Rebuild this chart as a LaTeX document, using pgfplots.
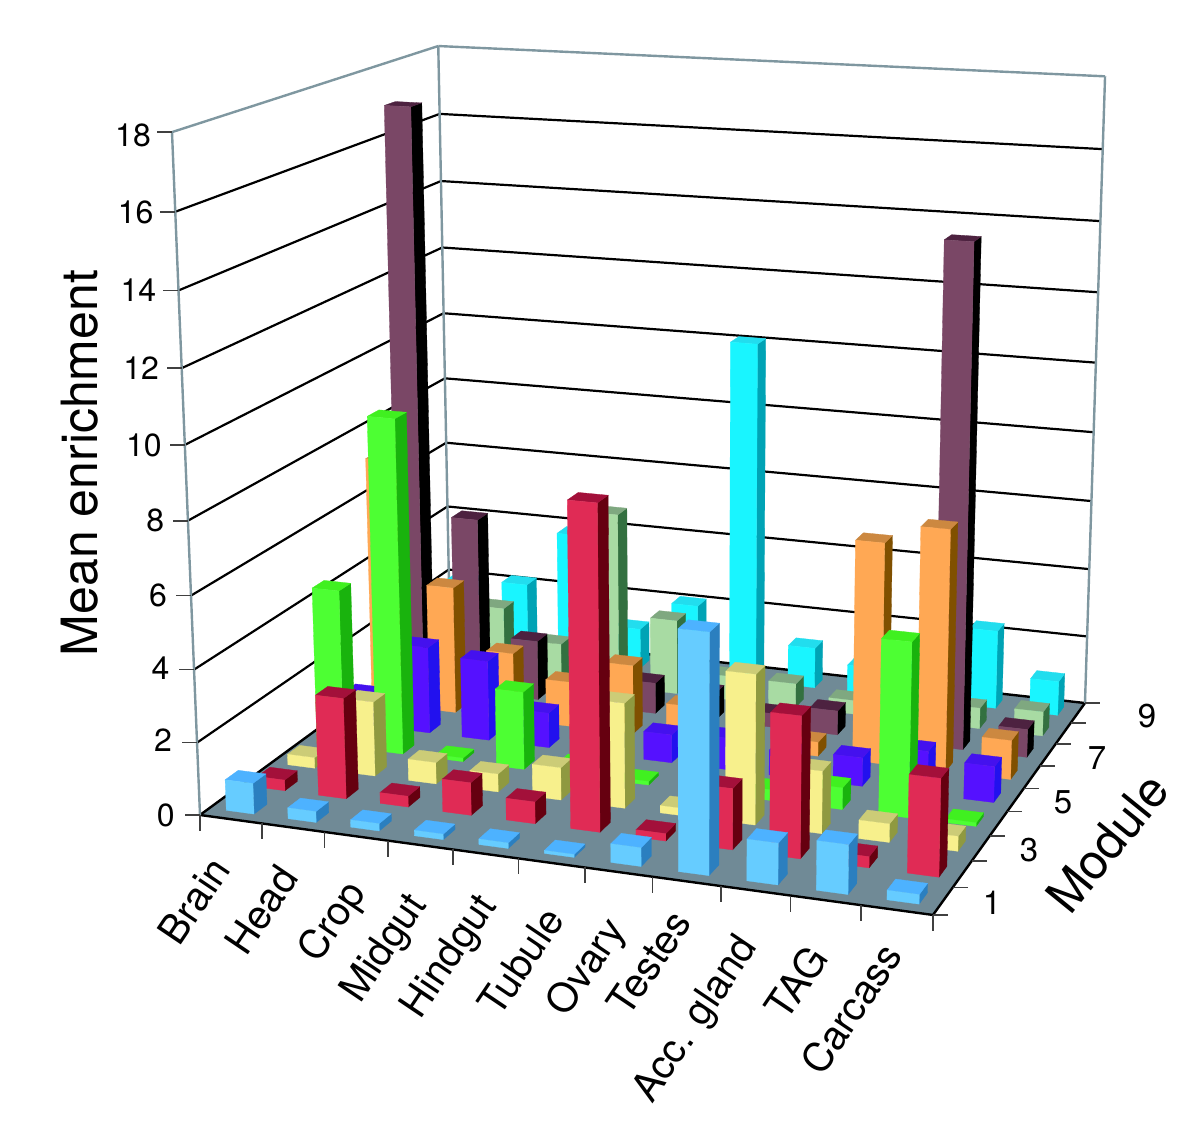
\documentclass[border=0pt]{standalone}
\usepackage{pgfplots}
\usepackage{pgfplotstable}
\usepackage{fontspec}
\setmainfont{TeX Gyre Heros}
\pgfplotsset{compat=1.18}
\definecolor{wallc}{HTML}{7F97A0}
\definecolor{groundc}{HTML}{708A96}
% front, top, side per module
\definecolor{f1}{HTML}{66CCFF}\definecolor{t1}{HTML}{4DB2FF}\definecolor{s1}{HTML}{2B7FBF}
\definecolor{f2}{HTML}{E02B55}\definecolor{t2}{HTML}{A3103A}\definecolor{s2}{HTML}{660010}
\definecolor{f3}{HTML}{F7F08C}\definecolor{t3}{HTML}{CCCC77}\definecolor{s3}{HTML}{8F9940}
\definecolor{f4}{HTML}{4DFF33}\definecolor{t4}{HTML}{40F020}\definecolor{s4}{HTML}{19B30D}
\definecolor{f5}{HTML}{5511FF}\definecolor{t5}{HTML}{4411EE}\definecolor{s5}{HTML}{2211EE}
\definecolor{f6}{HTML}{FFA854}\definecolor{t6}{HTML}{CC8840}\definecolor{s6}{HTML}{805000}
\definecolor{f7}{HTML}{7A4766}\definecolor{t7}{HTML}{4D2240}\definecolor{s7}{HTML}{000000}
\definecolor{f8}{HTML}{A8DBA3}\definecolor{t8}{HTML}{7FA880}\definecolor{s8}{HTML}{337040}
\definecolor{f9}{HTML}{19F5FF}\definecolor{t9}{HTML}{22DDEE}\definecolor{s9}{HTML}{00A3B5}
% rows: module, columns: tissue (Brain ... Carcass)
\pgfplotstableread{
m  c1   c2   c3   c4   c5   c6   c7   c8   c9   c10  c11
1  0.85 0.3  0.2  0.15 0.15 0.08 0.5  6.35 1.1  1.3  0.25
2  0.3  2.8  0.3  0.9  0.6  8.8  0.2  1.65 3.8  0.3  2.6
3  0.3  2.1  0.6  0.5  0.9  2.9  0.2  4.1  1.7  0.5  0.4
4  4.5  9.5  0.1  2.2  0.3  0.1  0.2  0.3  0.6  4.8  0.1
5  0.9  2.5  2.3  1.0  1.5  0.8  0.9  0.7  0.8  1.2  1.0
6  7.25 3.7  1.95 1.3  2.0  1.0  1.0  0.4  6.25 6.8  1.1
7 17.0  5.2  1.75 0.8  0.9  0.8  0.4  0.7  0.5 14.2  0.8
8  1.5  2.0  1.1  5.2  2.2  0.7  0.7  0.4  0.5  0.6  0.7
9  2.1  2.2  3.9  1.2  2.1 10.1  1.2  0.8  1.0  2.3  1.0
}\heights
% perspective projection of (u,v,z), z in data units, to picture coordinates
\newcommand{\proj}[5]{%
  \pgfmathsetmacro{\wtmp}{1-0.0788*(#1)+0.1732*(#2)-0.00297*(#3)}%
  \pgfmathsetmacro{#4}{(659.5*(#1)+327.9*(#2)+200-2.067*(#3))/\wtmp}%
  \pgfmathsetmacro{#5}{1146-(27.9*(#1)-73.5*(#2)+815-38.33*(#3))/\wtmp}%
}
\newcommand{\polyplot}[2]{% colour, coordinates
  \edef\tmpplot{\noexpand\addplot[draw=#1,fill=#1,line width=0.3pt,forget plot] coordinates {#2};}\tmpplot}
\newcommand{\seg}[7]{% style u v z u v z
  \proj{#2}{#3}{#4}{\xa}{\ya}\proj{#5}{#6}{#7}{\xb}{\yb}%
  \edef\tmpplot{\noexpand\addplot[#1,forget plot] coordinates {(\xa,\ya)(\xb,\yb)};}\tmpplot}
\newcommand{\onebar}[3]{% i j h
  \pgfmathsetmacro{\uc}{(#1-0.5)/11}\pgfmathsetmacro{\vc}{(#2-0.5)/9}%
  \pgfmathsetmacro{\ua}{\uc-0.0205}\pgfmathsetmacro{\ub}{\uc+0.0205}%
  \pgfmathsetmacro{\va}{\vc-0.023}\pgfmathsetmacro{\vb}{\vc+0.023}%
  \proj{\ua}{\va}{0}{\xA}{\yA}\proj{\ub}{\va}{0}{\xB}{\yB}\proj{\ub}{\vb}{0}{\xC}{\yC}%
  \proj{\ua}{\va}{#3}{\xD}{\yD}\proj{\ub}{\va}{#3}{\xE}{\yE}\proj{\ub}{\vb}{#3}{\xF}{\yF}\proj{\ua}{\vb}{#3}{\xG}{\yG}%
  \polyplot{s#2}{(\xB,\yB)(\xC,\yC)(\xF,\yF)(\xE,\yE)(\xB,\yB)}%
  \polyplot{t#2}{(\xD,\yD)(\xE,\yE)(\xF,\yF)(\xG,\yG)(\xD,\yD)}%
  \polyplot{f#2}{(\xA,\yA)(\xB,\yB)(\xE,\yE)(\xD,\yD)(\xA,\yA)}%
}
\begin{document}
\begin{tikzpicture}
\useasboundingbox (0,0) rectangle (1200pt,1146pt);
\begin{axis}[at={(0,0)},anchor=south west,width=1200pt,height=1146pt,scale only axis,hide axis,clip=false,
  xmin=0,xmax=1200,ymin=0,ymax=1146]
% floor
\proj{0}{0}{0}{\xa}{\ya}\proj{1}{0}{0}{\xb}{\yb}\proj{1}{1}{0}{\xc}{\yc}\proj{0}{1}{0}{\xd}{\yd}
\edef\tmpplot{\noexpand\addplot[fill=groundc,draw=black,line width=2.4pt,forget plot] coordinates {(\xa,\ya)(\xb,\yb)(\xc,\yc)(\xd,\yd)(\xa,\ya)};}\tmpplot
% grid lines on the walls
\foreach \z in {2,4,...,16}{
  \seg{black,line width=2.2pt}{0}{0}{\z}{0}{1}{\z}
  \seg{black,line width=2.2pt}{0}{1}{\z}{1}{1}{\z}
}
% wall frame
\foreach \ua/\va/\ub/\vb in {0/0/0/1,0/1/1/1}{
  \seg{wallc,line width=2.4pt}{\ua}{\va}{18}{\ub}{\vb}{18}
}
\foreach \ua/\va in {0/0,0/1,1/1}{
  \seg{wallc,line width=2.4pt}{\ua}{\va}{0}{\ua}{\va}{18}
}
% ticks
\foreach \z in {0,2,...,18}{
  \proj{0}{0}{\z}{\xa}{\ya}
  \edef\tmpplot{\noexpand\addplot[black!75,line width=1.6pt,forget plot] coordinates {(\xa,\ya)(\xa-15,\ya)};}\tmpplot
}
\foreach \k in {0,...,11}{
  \proj{\k/11}{0}{0}{\xa}{\ya}
  \edef\tmpplot{\noexpand\addplot[black!75,line width=1.6pt,forget plot] coordinates {(\xa,\ya)(\xa,\ya-16)};}\tmpplot
}
\foreach \k in {0,...,9}{
  \proj{1}{\k/9}{0}{\xa}{\ya}
  \edef\tmpplot{\noexpand\addplot[black!75,line width=1.6pt,forget plot] coordinates {(\xa,\ya)(\xa+15,\ya)};}\tmpplot
}
% bars, back to front
\foreach \j in {9,8,...,1}{
  \pgfmathtruncatemacro{\rowidx}{\j-1}
  \foreach \i in {1,...,11}{
    \pgfplotstablegetelem{\rowidx}{c\i}\of{\heights}
    \let\hval\pgfplotsretval
    \onebar{\i}{\j}{\hval}
  }
}
% tick labels
\foreach \z/\yy in {0/815,2/740,4/668,6/595,8/520,10/445,12/368,14/290,16/212,18/135}{
  \pgfmathsetmacro{\py}{1146-\yy}
  \pgfmathsetmacro{\px}{151+(\yy-135)*0.035}
  \edef\tmp{\noexpand\node[anchor=east,inner sep=0pt,font=\noexpand\fontsize{32}{36}\noexpand\selectfont] at (axis cs:\px,\py) {\z};}\tmp
}
\foreach \m/\xx/\yy in {1/992/903,3/1029/850,5/1063/802,7/1097/758,9/1147/716}{
  \pgfmathsetmacro{\py}{1146-\yy}
  \edef\tmp{\noexpand\node[font=\noexpand\fontsize{33}{36}\noexpand\selectfont] at (axis cs:\xx,\py) {\m};}\tmp
}
\foreach \t/\xx/\yy in {Brain/220/862,Head/288/870,Crop/358/887,Midgut/419/899,Hindgut/489/900,Tubule/554/912,Ovary/618/924,Testes/681/915,Acc. gland/750/941,TAG/818/950,Carcass/892/948}{
  \pgfmathsetmacro{\py}{1146-\yy}
  \edef\tmp{\noexpand\node[anchor=east,inner sep=0pt,rotate=56,font=\noexpand\fontsize{40}{44}\noexpand\selectfont] at (axis cs:\xx,\py) {\t};}\tmp
}
\node[rotate=90,font=\fontsize{50}{54}\selectfont] at (axis cs:80,683) {Mean enrichment};
\node[rotate=51,font=\fontsize{49}{54}\selectfont] at (axis cs:1107,303) {Module};
\end{axis}
\end{tikzpicture}
\end{document}
